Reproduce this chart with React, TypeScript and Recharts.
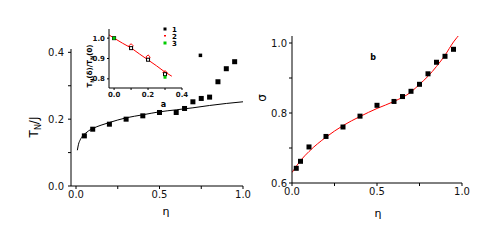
import { ComposedChart, Scatter, Line, XAxis, YAxis } from 'recharts'

// panel (a): T_N/J vs eta
const leftEta = [0.05, 0.1, 0.2, 0.3, 0.4, 0.5, 0.6, 0.65, 0.7, 0.75, 0.8, 0.85, 0.9, 0.95]
const leftTN = [0.15, 0.17, 0.185, 0.2, 0.21, 0.22, 0.22, 0.232, 0.252, 0.262, 0.266, 0.312, 0.351, 0.372]
const leftExtraEta = [0.745]
const leftExtraTN = [0.391]
const leftFitEta = [0.008, 0.015, 0.025, 0.04, 0.055, 0.075, 0.1, 0.15, 0.2, 0.3, 0.4, 0.5, 0.6, 0.7, 0.8, 0.9, 1.0]
const leftFitTN = [0.107, 0.125, 0.138, 0.15, 0.157, 0.165, 0.172, 0.182, 0.19, 0.204, 0.213, 0.222, 0.228, 0.234, 0.241, 0.247, 0.252]

// inset: T_N(delta)/T_N(0)
const insetEta1 = [0, 0.1, 0.2, 0.3]
const insetVal1 = [1.0, 0.951, 0.894, 0.823]
const insetEta2 = [0.1, 0.2, 0.3]
const insetVal2 = [0.962, 0.907, 0.83]
const insetEta3 = [0, 0.3]
const insetVal3 = [1.0, 0.808]
const insetLineEta = [-0.03, 0, 0.05, 0.1, 0.15, 0.2, 0.25, 0.3, 0.34]
const insetLineVal = [1.016, 1.0, 0.975, 0.952, 0.922, 0.893, 0.864, 0.833, 0.813]

// panel (b): sigma vs eta
const rightEta = [0.025, 0.05, 0.1, 0.2, 0.3, 0.4, 0.5, 0.6, 0.65, 0.7, 0.75, 0.8, 0.85, 0.9, 0.95]
const rightSigma = [0.642, 0.662, 0.703, 0.733, 0.76, 0.791, 0.822, 0.833, 0.847, 0.862, 0.882, 0.912, 0.945, 0.962, 0.982]
const rightFitEta = [0, 0.05, 0.1, 0.2, 0.3, 0.4, 0.5, 0.6, 0.7, 0.75, 0.8, 0.85, 0.9, 0.95, 0.99]
const rightFitSigma = [0.63, 0.664, 0.69, 0.731, 0.764, 0.79, 0.813, 0.833, 0.86, 0.882, 0.905, 0.933, 0.965, 1.003, 1.027]

const zip = (xs: number[], ys: number[]) => xs.map((x, i) => ({ x, y: ys[i] }))

const square = (size: number, fill: string, stroke = 'none') => (p: any) => (
  <rect x={p.cx - size / 2} y={p.cy - size / 2} width={size} height={size} fill={fill} stroke={stroke} />
)
const diamond = (size: number, color: string) => (p: any) => (
  <path
    d={`M${p.cx},${p.cy - size} L${p.cx + size},${p.cy} L${p.cx},${p.cy + size} L${p.cx - size},${p.cy} Z`}
    fill="none"
    stroke={color}
  />
)

const tickStyle = { fontFamily: 'DejaVu Sans', fontSize: 10, fill: '#111' }
const insetTick = { fontFamily: 'DejaVu Sans', fontSize: 7, fontWeight: 'bold', fill: '#111' }
const axisLine = { stroke: '#000' }

const fmt = (labels: number[]) => (v: number) => (labels.includes(v) ? v.toFixed(1) : '')

function LeftChart() {
  return (
    <ComposedChart width={260} height={230} margin={{ top: 49, right: 17, bottom: 14, left: 21 }}>
      <XAxis
        type="number"
        dataKey="x"
        domain={[-0.03, 1.0]}
        ticks={[0, 0.25, 0.5, 0.75, 1]}
        tickFormatter={fmt([0, 0.5, 1])}
        tick={tickStyle}
        tickSize={3}
        axisLine={axisLine}
        tickLine={axisLine}
        height={30}
        allowDataOverflow
      />
      <YAxis
        type="number"
        dataKey="y"
        domain={[0, 0.41]}
        ticks={[0, 0.1, 0.2, 0.3, 0.4]}
        tickFormatter={fmt([0, 0.2, 0.4])}
        tick={tickStyle}
        tickSize={3}
        tickMargin={4}
        axisLine={axisLine}
        tickLine={axisLine}
        width={50}
        allowDataOverflow
      />
      <Line data={zip(leftFitEta, leftFitTN)} dataKey="y" type="monotone" stroke="#000" strokeWidth={1} dot={false} isAnimationActive={false} />
      <Scatter data={zip(leftEta, leftTN)} dataKey="y" shape={square(5, '#000')} isAnimationActive={false} />
      <Scatter data={zip(leftExtraEta, leftExtraTN)} dataKey="y" shape={square(3.5, '#000')} isAnimationActive={false} />
    </ComposedChart>
  )
}

function InsetChart() {
  return (
    <ComposedChart width={110} height={80} margin={{ top: 9, right: 8, bottom: 0, left: 9 }}>
      <XAxis
        type="number"
        dataKey="x"
        domain={[-0.03, 0.4]}
        ticks={[0, 0.1, 0.2, 0.3, 0.4]}
        tickFormatter={fmt([0, 0.2, 0.4])}
        tick={insetTick}
        tickSize={2}
        axisLine={axisLine}
        tickLine={axisLine}
        height={12}
        allowDataOverflow
      />
      <YAxis
        type="number"
        dataKey="y"
        domain={[0.755, 1.045]}
        ticks={[0.8, 0.9, 1.0]}
        tickFormatter={fmt([0.8, 0.9, 1.0])}
        tick={insetTick}
        tickSize={2}
        tickMargin={2}
        axisLine={axisLine}
        tickLine={axisLine}
        width={20}
        allowDataOverflow
      />
      <Line data={zip(insetLineEta, insetLineVal)} dataKey="y" type="linear" stroke="#ff0000" strokeWidth={1} dot={false} isAnimationActive={false} />
      <Scatter data={zip(insetEta2, insetVal2)} dataKey="y" shape={diamond(2.2, '#ff0000')} isAnimationActive={false} />
      <Scatter data={zip(insetEta1, insetVal1)} dataKey="y" shape={square(3, '#fff', '#000')} isAnimationActive={false} />
      <Scatter data={zip(insetEta3, insetVal3)} dataKey="y" shape={square(3, '#00cc00')} isAnimationActive={false} />
    </ComposedChart>
  )
}

function RightChart() {
  return (
    <ComposedChart width={240} height={230} margin={{ top: 36, right: 28, bottom: 17, left: 2 }}>
      <XAxis
        type="number"
        dataKey="x"
        domain={[0, 1.0]}
        ticks={[0, 0.25, 0.5, 0.75, 1]}
        tickFormatter={fmt([0, 0.5, 1])}
        tick={tickStyle}
        tickSize={3}
        axisLine={axisLine}
        tickLine={axisLine}
        height={30}
        allowDataOverflow
      />
      <YAxis
        type="number"
        dataKey="y"
        domain={[0.6, 1.02]}
        ticks={[0.6, 0.7, 0.8, 0.9, 1.0]}
        tickFormatter={fmt([0.6, 0.8, 1.0])}
        tick={tickStyle}
        tickSize={3}
        tickMargin={2}
        axisLine={axisLine}
        tickLine={axisLine}
        width={40}
        allowDataOverflow
      />
      <Line data={zip(rightFitEta, rightFitSigma)} dataKey="y" type="monotone" stroke="#ff0000" strokeWidth={1} dot={false} isAnimationActive={false} />
      <Scatter data={zip(rightEta, rightSigma)} dataKey="y" shape={square(5, '#000')} isAnimationActive={false} />
    </ComposedChart>
  )
}

export default function App() {
  return (
    <div style={{ position: 'absolute', left: 0, top: 0, width: 498, height: 246, background: '#fff', overflow: 'hidden' }}>
      <div style={{ position: 'absolute', left: 0, top: 0 }}>
        <LeftChart />
      </div>
      <div style={{ position: 'absolute', left: 250, top: 0 }}>
        <RightChart />
      </div>
      <div style={{ position: 'absolute', left: 80, top: 20 }}>
        <InsetChart />
      </div>
      <svg width={498} height={246} style={{ position: 'absolute', left: 0, top: 0, pointerEvents: 'none' }}>
        <g fontFamily="DejaVu Sans" fill="#000">
          <text x={166} y={215} fontSize={11} textAnchor="middle">η</text>
          <text x={378} y={217} fontSize={11} textAnchor="middle">η</text>
          <text transform="translate(38,127) rotate(-90)" fontSize={12} textAnchor="middle">
            T<tspan fontSize={8} dy={3}>N</tspan><tspan dy={-3}>/J</tspan>
          </text>
          <text transform="translate(266,98) rotate(-90)" fontSize={12} textAnchor="middle">σ</text>
          <text transform="translate(92,66) rotate(-90)" fontSize={7} fontWeight="bold" textAnchor="middle">
            T<tspan fontSize={5} dy={2}>N</tspan><tspan dy={-2}>(δ)/T</tspan><tspan fontSize={5} dy={2}>N</tspan><tspan dy={-2}>(0)</tspan>
          </text>
          <text x={163.5} y={107} fontSize={8} fontWeight="bold" textAnchor="middle">a</text>
          <text x={373} y={60} fontSize={8} fontWeight="bold" textAnchor="middle">b</text>
          <rect x={163.5} y={27.5} width={3} height={3} fill="#000" />
          <rect x={164} y={35} width={2} height={1.5} fill="#ff0000" />
          <rect x={163.5} y={41.5} width={3} height={3} fill="#00cc00" />
          <text x={172} y={31.5} fontSize={7} fontWeight="bold">1</text>
          <text x={172} y={38.5} fontSize={7} fontWeight="bold">2</text>
          <text x={172} y={45.5} fontSize={7} fontWeight="bold">3</text>
        </g>
      </svg>
    </div>
  )
}
